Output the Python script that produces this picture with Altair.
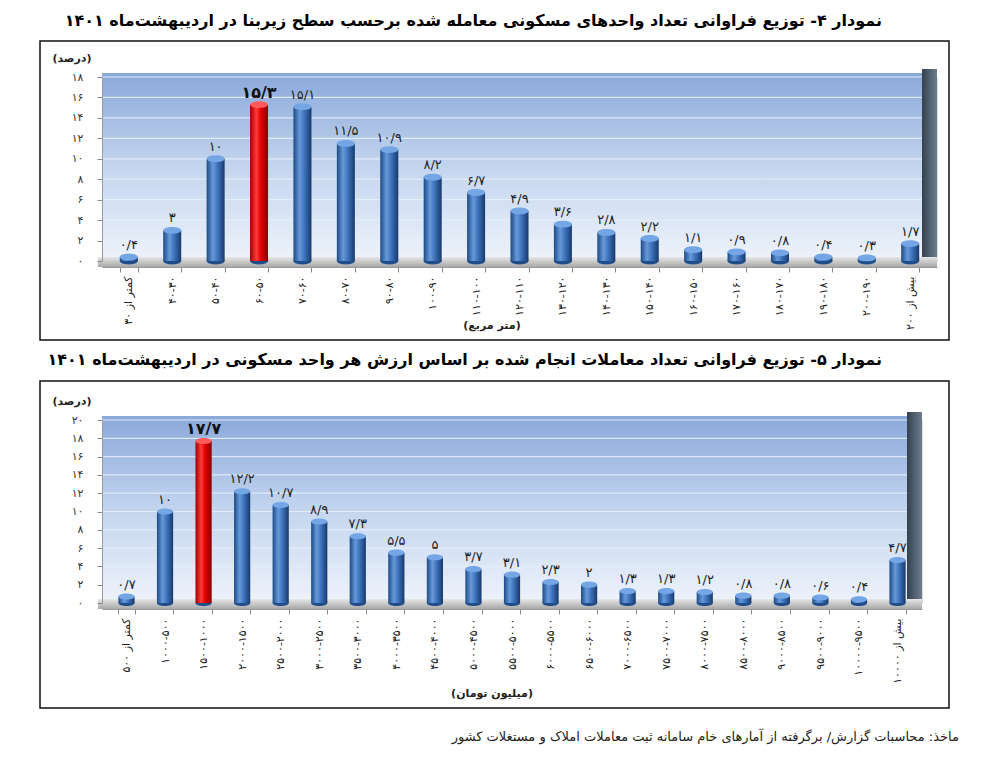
import altair as alt
import pandas as pd

FONT = "DejaVu Sans"
TO_FA = str.maketrans("0123456789.", "۰۱۲۳۴۵۶۷۸۹/")

# Chart 4: share of traded units by floor area (square metres)
area_cats = [
    "کمتر از ۳۰", "۴۰-۳۰", "۵۰-۴۰", "۶۰-۵۰", "۷۰-۶۰", "۸۰-۷۰", "۹۰-۸۰",
    "۱۰۰-۹۰", "۱۱۰-۱۰۰", "۱۲۰-۱۱۰", "۱۳۰-۱۲۰", "۱۴۰-۱۳۰", "۱۵۰-۱۴۰",
    "۱۶۰-۱۵۰", "۱۷۰-۱۶۰", "۱۸۰-۱۷۰", "۱۹۰-۱۸۰", "۲۰۰-۱۹۰", "بیش از ۲۰۰",
]
area_share = [0.4, 3, 10, 15.3, 15.1, 11.5, 10.9, 8.2, 6.7, 4.9, 3.6, 2.8,
              2.2, 1.1, 0.9, 0.8, 0.4, 0.3, 1.7]
area_peak = "۶۰-۵۰"
area_ticks = [0, 2, 4, 6, 8, 10, 12, 14, 16, 18]

# Chart 5: share of transactions by unit value (million toman)
price_cats = [
    "کمتر از ۵۰۰", "۱۰۰۰-۵۰۰", "۱۵۰۰-۱۰۰۰", "۲۰۰۰-۱۵۰۰", "۲۵۰۰-۲۰۰۰",
    "۳۰۰۰-۲۵۰۰", "۳۵۰۰-۳۰۰۰", "۴۰۰۰-۳۵۰۰", "۴۵۰۰-۴۰۰۰", "۵۰۰۰-۴۵۰۰",
    "۵۵۰۰-۵۰۰۰", "۶۰۰۰-۵۵۰۰", "۶۵۰۰-۶۰۰۰", "۷۰۰۰-۶۵۰۰", "۷۵۰۰-۷۰۰۰",
    "۸۰۰۰-۷۵۰۰", "۸۵۰۰-۸۰۰۰", "۹۰۰۰-۸۵۰۰", "۹۵۰۰-۹۰۰۰", "۱۰۰۰۰-۹۵۰۰",
    "بیش از ۱۰۰۰۰",
]
price_share = [0.7, 10, 17.7, 12.2, 10.7, 8.9, 7.3, 5.5, 5, 3.7, 3.1, 2.3, 2,
               1.3, 1.3, 1.2, 0.8, 0.8, 0.6, 0.4, 4.7]
price_peak = "۱۵۰۰-۱۰۰۰"
price_ticks = [0, 2, 4, 6, 8, 10, 12, 14, 16, 18, 20]

title4 = "نمودار ۴- توزیع فراوانی تعداد واحدهای مسکونی معامله شده برحسب سطح زیربنا در اردیبهشت‌ماه ۱۴۰۱"
title5 = "نمودار ۵- توزیع فراوانی تعداد معاملات انجام شده بر اساس ارزش هر واحد مسکونی در اردیبهشت‌ماه ۱۴۰۱"
xtitle4 = "(متر مربع)"
xtitle5 = "(میلیون تومان)"
ytitle = "(درصد)"
source = "ماخذ: محاسبات گزارش/ برگرفته از آمارهای خام سامانه ثبت معاملات املاک و مستغلات کشور"


def fa_num(v):
    return f"{v:g}".translate(TO_FA)


# y tick labels in Persian digits
digit_expr = "datum.label"
for d, f in zip("0123456789", "۰۱۲۳۴۵۶۷۸۹"):
    digit_expr = f"replace({digit_expr}, regexp('{d}', 'g'), '{f}')"


def grad(stops, vertical=False):
    return alt.Gradient(
        gradient="linear",
        x1=0, x2=0 if vertical else 1, y1=0, y2=1 if vertical else 0,
        stops=[alt.GradientStop(color=c, offset=o) for o, c in stops],
    )


BLUE = grad([(0, "#1c4a86"), (0.35, "#6799da"), (0.6, "#3f74bd"), (1, "#17396b")])
RED = grad([(0, "#a00000"), (0.35, "#ff3a3a"), (0.6, "#e00000"), (1, "#8a0000")])
WALL = grad([(0, "#8aa8da"), (0.5, "#c3d5ee"), (1, "#eef3fb")], vertical=True)
SIDE = grad([(0, "#34414f"), (1, "#6f7d8d")])
FLOOR = grad([(0, "#e6e6e6"), (1, "#a8a8a8")], vertical=True)
ELLIPSE = "M-1,0 A1,0.38 0 1,1 1,0 A1,0.38 0 1,1 -1,0 Z"

one = pd.DataFrame({"k": [0]})


def panel(cats, vals, peak, ticks, width, height, wall_w, pad_in, pad_out,
          title, title_y, xtitle, box_top, box_bottom, extra=None):
    df = pd.DataFrame({
        "cat": cats,
        "v": vals,
        "lab": [fa_num(v) for v in vals],
        "hl": [c == peak for c in cats],
        "zero": [0] * len(cats),
    })
    n = len(cats)
    step = width / (n - pad_in + 2 * pad_out)
    bw = step * (1 - pad_in)
    ymax = ticks[-1]

    X = alt.X(
        "cat:N", sort=cats, title=None,
        scale=alt.Scale(paddingInner=pad_in, paddingOuter=pad_out),
        axis=alt.Axis(labelAngle=-90, labelFont=FONT, labelFontSize=11,
                      labelColor="#222", labelPadding=4, tickBand="extent",
                      tickSize=5, tickColor="#888", domainColor="#999",
                      offset=6, zindex=1, labelLimit=200),
    )
    y_axis = alt.Axis(values=ticks, labelExpr=digit_expr, labelFont=FONT,
                      labelFontSize=11, labelColor="#333", tickSize=5,
                      tickColor="#888", domainColor="#999", labelPadding=14,
                      grid=False, zindex=1)
    y_scale = alt.Scale(domain=[0, ymax], nice=False, zero=True)

    def Y(field):
        return alt.Y(f"{field}:Q", title=None, scale=y_scale, axis=y_axis)

    wall = alt.Chart(one).mark_rect(fill=WALL).encode(
        x=alt.value(0), x2=alt.value(wall_w), y=alt.value(-4), y2=alt.value(height))
    side = alt.Chart(one).mark_rect(fill=SIDE).encode(
        x=alt.value(wall_w), x2=alt.value(width), y=alt.value(-8), y2=alt.value(height + 6))
    floor = alt.Chart(one).mark_rect(fill=FLOOR).encode(
        x=alt.value(-4), x2=alt.value(width), y=alt.value(height - 4), y2=alt.value(height + 6))
    grid = alt.Chart(pd.DataFrame({"t": ticks[1:]})).mark_rule(
        stroke="#e6eef9", strokeWidth=1.2, opacity=0.9).encode(
        y=Y("t"), x=alt.value(0), x2=alt.value(wall_w))

    base = alt.Chart(df)
    normal = base.transform_filter("!datum.hl")
    peak_b = base.transform_filter("datum.hl")

    bottoms = base.mark_point(shape=ELLIPSE, filled=True, size=bw * bw,
                              opacity=1, color="#1f4d8a").encode(x=X, y=Y("zero"))
    bars = normal.mark_bar(fill=BLUE, width=bw).encode(x=X, y=Y("v"))
    bars_r = peak_b.mark_bar(fill=RED, width=bw).encode(x=X, y=Y("v"))
    caps = normal.mark_point(shape=ELLIPSE, filled=True, size=bw * bw,
                             opacity=1, color="#74a6e6").encode(x=X, y=Y("v"))
    caps_r = peak_b.mark_point(shape=ELLIPSE, filled=True, size=bw * bw,
                               opacity=1, color="#ff5a5a").encode(x=X, y=Y("v"))
    labs = normal.mark_text(font=FONT, fontSize=13, color="#222",
                            baseline="bottom", dy=-5).encode(x=X, y=Y("v"), text="lab:N")
    labs_r = peak_b.mark_text(font=FONT, fontSize=16, fontWeight="bold",
                              color="#111", baseline="bottom", dy=-4).encode(x=X, y=Y("v"), text="lab:N")

    box = alt.Chart(one).mark_rect(fillOpacity=0, stroke="#111", strokeWidth=1.5).encode(
        x=alt.value(-62), x2=alt.value(847), y=alt.value(box_top), y2=alt.value(box_bottom))
    ttl = alt.Chart(one).mark_text(text=title, font=FONT, fontSize=16, fontWeight="bold",
                                   color="#000", align="right", baseline="middle").encode(
        x=alt.value(780), y=alt.value(title_y))
    ytl = alt.Chart(one).mark_text(text=ytitle, font=FONT, fontSize=11, fontWeight="bold",
                                   color="#222", align="center", baseline="middle").encode(
        x=alt.value(-30), y=alt.value(-18))
    xtl = alt.Chart(one).mark_text(text=xtitle, font=FONT, fontSize=11, fontWeight="bold",
                                   color="#222", align="center", baseline="middle").encode(
        x=alt.value(390), y=alt.value(box_bottom - 14))

    layers = [wall, side, floor, grid, bottoms, bars, bars_r, caps, caps_r,
              labs, labs_r, box, ttl, ytl, xtl]
    if extra is not None:
        layers.append(extra)
    return alt.layer(*layers).properties(width=width, height=height)


src = alt.Chart(one).mark_text(text=source, font=FONT, fontSize=13, color="#222",
                               align="right", baseline="middle").encode(
    x=alt.value(857), y=alt.value(317))

top = panel(area_cats, area_share, area_peak, area_ticks, 835, 184, 820,
            0.585, 0.41, title4, -56, xtitle4, -36, 263)
bottom = panel(price_cats, price_share, price_peak, price_ticks, 820, 183, 805,
               0.58, 0.425, title5, -60, xtitle5, -39, 288, extra=src)

chart = alt.vconcat(top, bottom, spacing=9).properties(
    padding={"left": 38, "top": 12, "right": 10, "bottom": 5},
    background="white",
).configure_view(stroke=None).configure(font=FONT)

chart.save("out.html", embed_options={"renderer": "svg", "actions": False})
